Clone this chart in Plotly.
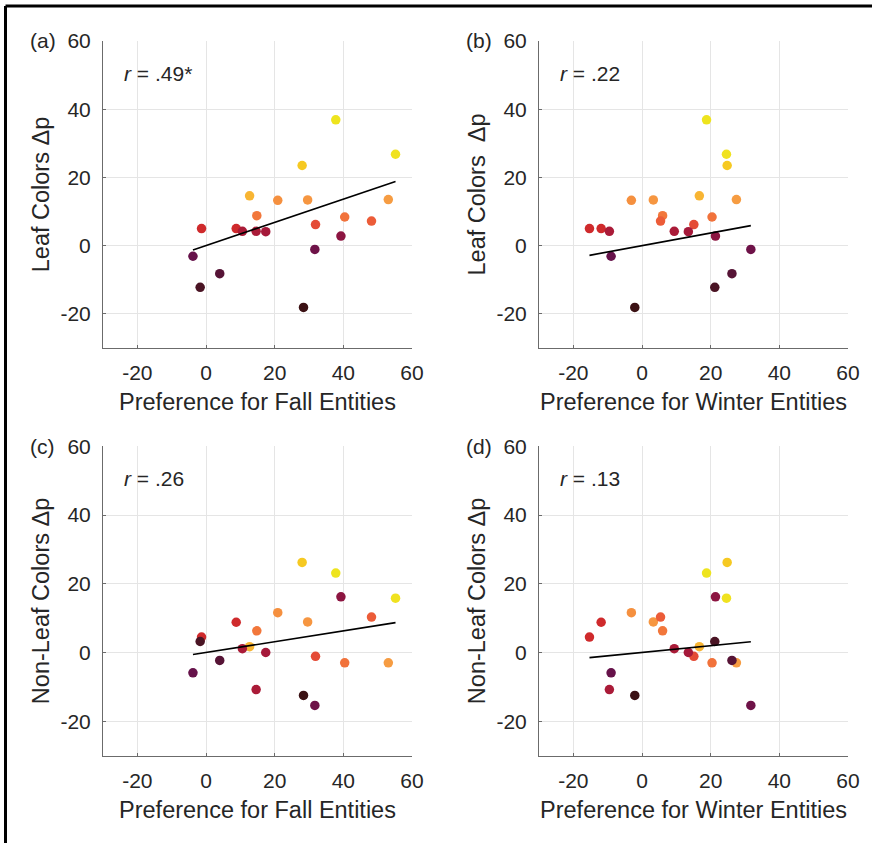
import numpy as np
import plotly.graph_objects as go

# ---- data (one entry per participant) ----
fall_pref = [37.8, 55.2, 28.0, 12.7, 20.9, 29.6, 53.1, 14.8, 40.4, 48.2, 31.9,
             -1.3, 8.8, 10.6, 14.6, 17.4, 39.3, 31.7, -3.8, 4.0, -1.7, 28.4]
winter_pref = [18.8, 24.6, 24.8, 16.7, -3.1, 3.3, 27.5, 6.0, 20.4, 5.4, 15.1,
               -15.3, -11.9, 9.4, -9.5, 13.5, 21.4, 31.7, -9.0, 26.2, 21.2, -2.1]
leaf_dp = [36.9, 26.8, 23.5, 14.6, 13.3, 13.4, 13.5, 8.8, 8.4, 7.2, 6.2,
           5.0, 5.0, 4.2, 4.2, 4.1, 2.8, -1.1, -3.1, -8.2, -12.2, -18.1]
nonleaf_dp = [23.1, 15.8, 26.2, 1.7, 11.6, 8.9, -3.0, 6.3, -3.0, 10.3, -1.1,
              4.5, 8.8, 1.1, -10.8, 0.0, 16.2, -15.4, -5.9, -2.3, 3.2, -12.5]

panel_labels = ["(a)", "(b)", "(c)", "(d)"]
r_labels = [".49*", ".22", ".26", ".13"]
x_titles = ["Preference for Fall Entities", "Preference for Winter Entities",
            "Preference for Fall Entities", "Preference for Winter Entities"]
y_titles = ["Leaf Colors \u0394p", "Leaf Colors \u00a0\u0394p",
            "Non-Leaf Colors \u0394p", "Non-Leaf Colors \u0394p"]
tick_vals = [-20, 0, 20, 40, 60]
tick_text = ["-20", "0", "20", "40", "60"]

# ---- style ----
FONT = "Liberation Sans, Arial, Helvetica, sans-serif"
TXT = "#262626"
TICK_SIZE = 21
TITLE_SIZE = 23.5
cmin, cmax = min(leaf_dp), max(leaf_dp)
stops = [(-18.1, "#3b1114"), (-12.2, "#4a1424"), (-8.2, "#561436"), (-3.1, "#66124a"),
         (-1.1, "#6e1248"), (2.8, "#8c1541"), (4.1, "#a5193a"), (5.0, "#cf2a2c"),
         (6.2, "#e44b36"), (7.2, "#ec5c38"), (8.6, "#f2763b"), (13.3, "#f5903f"),
         (13.5, "#f69c42"), (14.6, "#f8b533"), (23.5, "#f6c922"), (26.8, "#f0e220"),
         (36.9, "#eee41e")]
colorscale = [[(v - cmin) / (cmax - cmin), c] for v, c in stops]

W, H = 872, 843
xd = [[103 / W, 412 / W], [539 / W, 848 / W]]
yd = [[1 - 348 / H, 1 - 41 / H], [1 - 755.6 / H, 1 - 446.3 / H]]

panels = [
    (fall_pref, leaf_dp, 0, 0),
    (winter_pref, leaf_dp, 1, 0),
    (fall_pref, nonleaf_dp, 0, 1),
    (winter_pref, nonleaf_dp, 1, 1),
]

fig = go.Figure()
annotations = []
for i, (xs, ys, col, row) in enumerate(panels):
    ax = "" if i == 0 else str(i + 1)
    xa, ya = "x" + ax, "y" + ax
    xarr, yarr = np.array(xs), np.array(ys)
    # least-squares slope, drawn through the origin as in the original figure
    slope = float(np.polyfit(xarr, yarr, 1)[0])
    lx = np.array([xarr.min(), xarr.max()])
    fig.add_trace(go.Scatter(x=xs, y=ys, mode="markers", xaxis=xa, yaxis=ya,
                             marker=dict(size=9.5, color=leaf_dp, colorscale=colorscale,
                                         cmin=cmin, cmax=cmax, line=dict(width=0)),
                             showlegend=False, hoverinfo="x+y"))
    fig.add_trace(go.Scatter(x=lx, y=slope * lx, mode="lines", xaxis=xa, yaxis=ya,
                             line=dict(color="black", width=1.6), showlegend=False,
                             hoverinfo="skip"))
    axcommon = dict(range=[-30, 60], tickvals=tick_vals, ticktext=tick_text,
                    showgrid=True, gridcolor="#e5e5e5", gridwidth=1,
                    showline=True, linecolor="#6b6b6b", linewidth=1,
                    ticks="inside", ticklen=3, tickcolor="#6b6b6b",
                    zeroline=False, tickfont=dict(size=TICK_SIZE, color=TXT, family=FONT),
                    fixedrange=True, automargin=False)
    fig.layout["xaxis" + ax] = dict(axcommon, domain=xd[col], anchor=ya,
                                    title=dict(text=x_titles[i],
                                               font=dict(size=TITLE_SIZE, color=TXT, family=FONT),
                                               standoff=10),
                                    ticklabelstandoff=6)
    fig.layout["yaxis" + ax] = dict(axcommon, domain=yd[row], anchor=xa,
                                    title=dict(text=y_titles[i],
                                               font=dict(size=TITLE_SIZE, color=TXT, family=FONT),
                                               standoff=4),
                                    ticklabelstandoff=7)
    annotations.append(dict(text="<i>r</i> = " + r_labels[i], xref=xa + " domain", yref=ya + " domain",
                            x=0.06, y=0.895, xanchor="left", yanchor="middle", showarrow=False,
                            font=dict(size=TICK_SIZE, color=TXT, family=FONT)))
    annotations.append(dict(text=panel_labels[i], xref="paper", yref="paper",
                            x=(xd[col][0] * W - 75) / W, y=yd[row][1], xanchor="left",
                            yanchor="middle", showarrow=False,
                            font=dict(size=TICK_SIZE, color=TXT, family=FONT)))

fig.update_layout(
    width=W, height=H, margin=dict(l=0, r=0, t=0, b=0, autoexpand=False),
    paper_bgcolor="white", plot_bgcolor="white",
    annotations=annotations,
    shapes=[
        dict(type="line", xref="paper", yref="paper", x0=5.5 / W, x1=1, y0=1 - 6 / H, y1=1 - 6 / H,
             line=dict(color="black", width=3)),
        dict(type="line", xref="paper", yref="paper", x0=5.5 / W, x1=5.5 / W, y0=0, y1=1 - 6 / H,
             line=dict(color="black", width=3)),
    ],
)

post = ("document.body.style.margin='0';document.body.style.padding='0';"
        "document.documentElement.style.overflow='hidden';"
        "var d=document.getElementById('{plot_id}');d.style.position='absolute';"
        "d.style.left='0px';d.style.top='0px';")
fig.write_html("out.html", post_script=post, config={"displayModeBar": False})
